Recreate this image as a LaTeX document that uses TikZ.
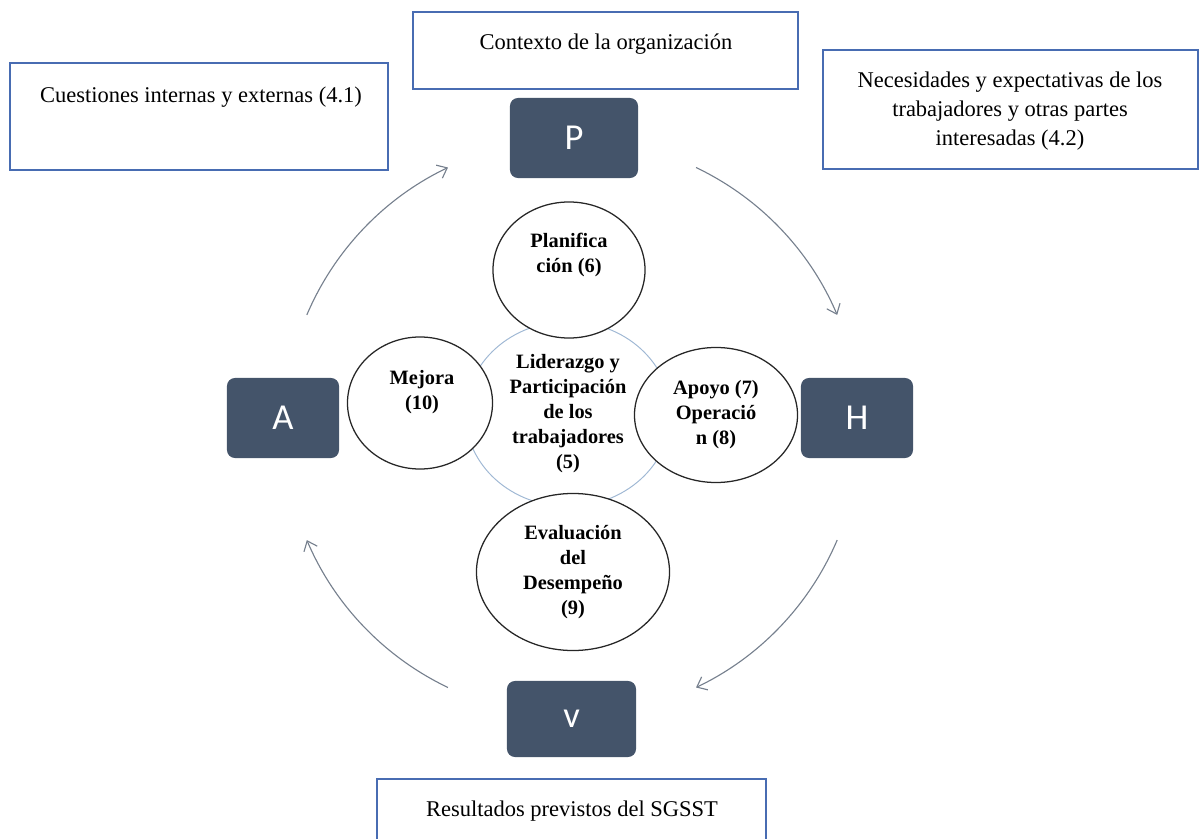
\documentclass[tikz,border=0pt]{standalone}
\usepackage{fontspec}
\setmainfont{Liberation Serif}
\newfontfamily\letterfont{Carlito}
\usetikzlibrary{shapes.geometric,arrows.meta}
\definecolor{slate}{HTML}{44546A}
\definecolor{boxblue}{RGB}{72,108,178}
\definecolor{ringblue}{RGB}{160,184,212}
\definecolor{cyclegray}{RGB}{118,128,142}
\begin{document}
\begin{tikzpicture}[x=0.025cm, y=-0.025cm,
	frame/.style={rectangle, draw=boxblue, line width=1.4pt, fill=white},
	frametext/.style={align=center, font=\fontsize{16}{20.6}\selectfont},
	phase/.style={rectangle, rounded corners=2mm, fill=slate, text=white, minimum height=2cm,
		font=\letterfont\fontsize{26}{30}\selectfont},
	clause/.style={ellipse, draw=black!85, line width=0.9pt, fill=white, inner sep=0pt},
	clausetext/.style={align=center, font=\bfseries\fontsize{14.5}{17.8}\selectfont},
	cycle/.style={draw=cyclegray, line width=0.8pt, -{Straight Barb[length=2.2mm,width=3.6mm]}}]
	\useasboundingbox (0,0) rectangle (1202,839);
	\clip (0,0) rectangle (1202,839);
	\node[frame, minimum width=9.625cm, minimum height=1.925cm] (ctx) at (605.5,50.5) {};
	\node[frametext] (ctxtext) at (606,44) {Contexto de la organización};
	\node[frame, minimum width=9.45cm, minimum height=2.675cm] (issues) at (199,116.5) {};
	\node[frametext] (issuestext) at (201,97) {Cuestiones internas y externas (4.1)};
	\node[frame, minimum width=9.375cm, minimum height=2.975cm] (needs) at (1010.5,109.5) {};
	\node[frametext] (needstext) at (1010,111) {Necesidades y expectativas de los\\trabajadores y otras partes\\interesadas (4.2)};
	\node[frame, minimum width=9.725cm, minimum height=2.025cm] (results) at (571.5,819.5) {};
	\node[frametext] (resultstext) at (572,811) {Resultados previstos del SGSST};
	\node[phase, minimum width=3.2cm] (P) at (574,138) {P};
	\node[phase, minimum width=2.8cm] (A) at (283,418) {A};
	\node[phase, minimum width=2.8cm] (H) at (857,418) {H};
	\node[phase, minimum width=3.225cm, minimum height=1.9cm] (V) at (571.5,719) {v};
	\node[ellipse, draw=ringblue, line width=0.7pt, inner sep=0pt, minimum width=5.125cm, minimum height=4.625cm, clausetext] (lead) at (568,414) {Liderazgo y\\Participación\\de los\\trabajadores\\(5)};
	\node[clause, minimum width=3.8cm, minimum height=3.4cm] (plan) at (569,270) {};
	\node[clausetext] (plantext) at (569,255) {Planifica\\ción (6)};
	\node[clause, minimum width=3.625cm, minimum height=3.3cm] (improve) at (420,403) {};
	\node[clausetext] (improvetext) at (422,392) {Mejora\\(10)};
	\node[clause, clausetext, minimum width=4.075cm, minimum height=3.375cm] (support) at (716,415) {Apoyo (7)\\Operació\\n (8)};
	\node[clause, clausetext, minimum width=4.825cm, minimum height=3.925cm] (check) at (573,572) {Evaluación\\del\\Desempeño\\(9)};
	\coordinate (hub) at (572,427.5);
	\draw[cycle] ([shift={(157:7.2cm)}]hub) arc[start angle=157, end angle=115.5, radius=7.2cm];
	\draw[cycle] ([shift={(64.5:7.2cm)}]hub) arc[start angle=64.5, end angle=23, radius=7.2cm];
	\draw[cycle] ([shift={(-23:7.2cm)}]hub) arc[start angle=-23, end angle=-64.5, radius=7.2cm];
	\draw[cycle] ([shift={(-115.5:7.2cm)}]hub) arc[start angle=-115.5, end angle=-157, radius=7.2cm];
\end{tikzpicture}
\end{document}
